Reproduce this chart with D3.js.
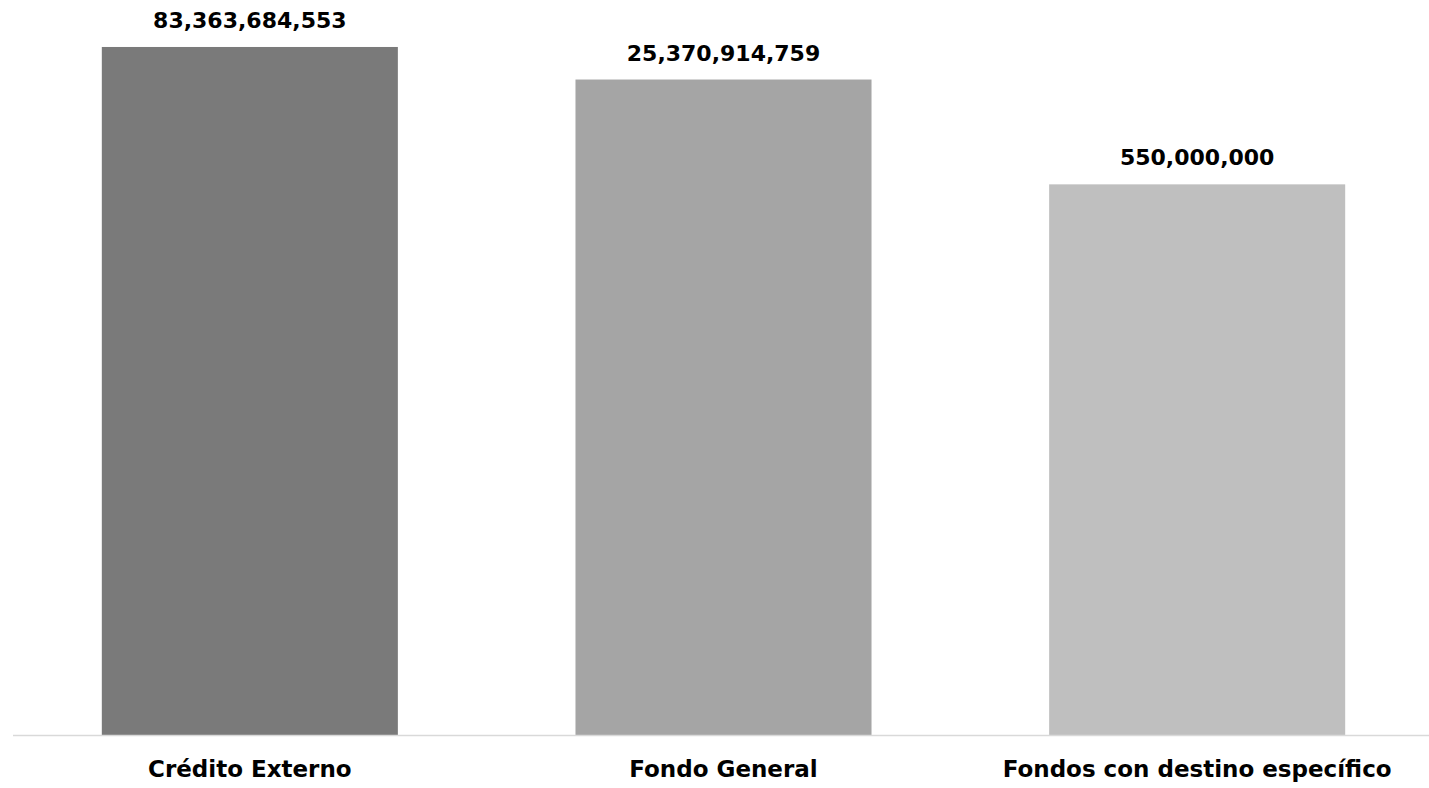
<!DOCTYPE html>
<html><head><meta charset="utf-8">
<script src="https://cdn.jsdelivr.net/npm/d3@7"></script>
<style>body{margin:0;background:#fff}svg{display:block}</style>
</head><body>
<svg id="chart" width="1429" height="788"></svg>
<script>
const categories = ["Crédito Externo", "Fondo General", "Fondos con destino específico"];
const values = [83363684553, 25370914759, 550000000];
const colors = ["#7a7a7a", "#a5a5a5", "#bfbfbf"];

const svg = d3.select("#chart");
const font = "'DejaVu Sans', sans-serif";
const x = d3.scaleBand().domain(categories).range([13, 1434]).paddingInner(0.375).paddingOuter(0.1875);
const y = d3.scaleLog().domain([1, 1e11]).range([735, 42]);

svg.selectAll("rect.bar").data(values).join("rect").attr("class","bar")
  .attr("x", (d,i) => x(categories[i])).attr("width", x.bandwidth())
  .attr("y", d => y(d)).attr("height", d => y(1) - y(d))
  .attr("fill", (d,i) => colors[i]);

svg.append("line").attr("x1", 13).attr("x2", 1429).attr("y1", 735.5).attr("y2", 735.5)
  .attr("stroke", "#d9d9d9").attr("stroke-width", 1.5);

const fmt = d3.format(",");
svg.selectAll("text.val").data(values).join("text").attr("class","val")
  .attr("x", (d,i) => x(categories[i]) + x.bandwidth()/2)
  .attr("y", d => y(d) - 19)
  .attr("text-anchor","middle").attr("font-family", font).attr("font-weight", "bold")
  .attr("font-size", 22).attr("fill","#000").text(d => fmt(d));

svg.selectAll("text.cat").data(categories).join("text").attr("class","cat")
  .attr("x", d => x(d) + x.bandwidth()/2).attr("y", 777)
  .attr("text-anchor","middle").attr("font-family", font).attr("font-weight", "bold")
  .attr("font-size", 23).attr("fill","#000").text(d => d);
</script>
</body></html>
